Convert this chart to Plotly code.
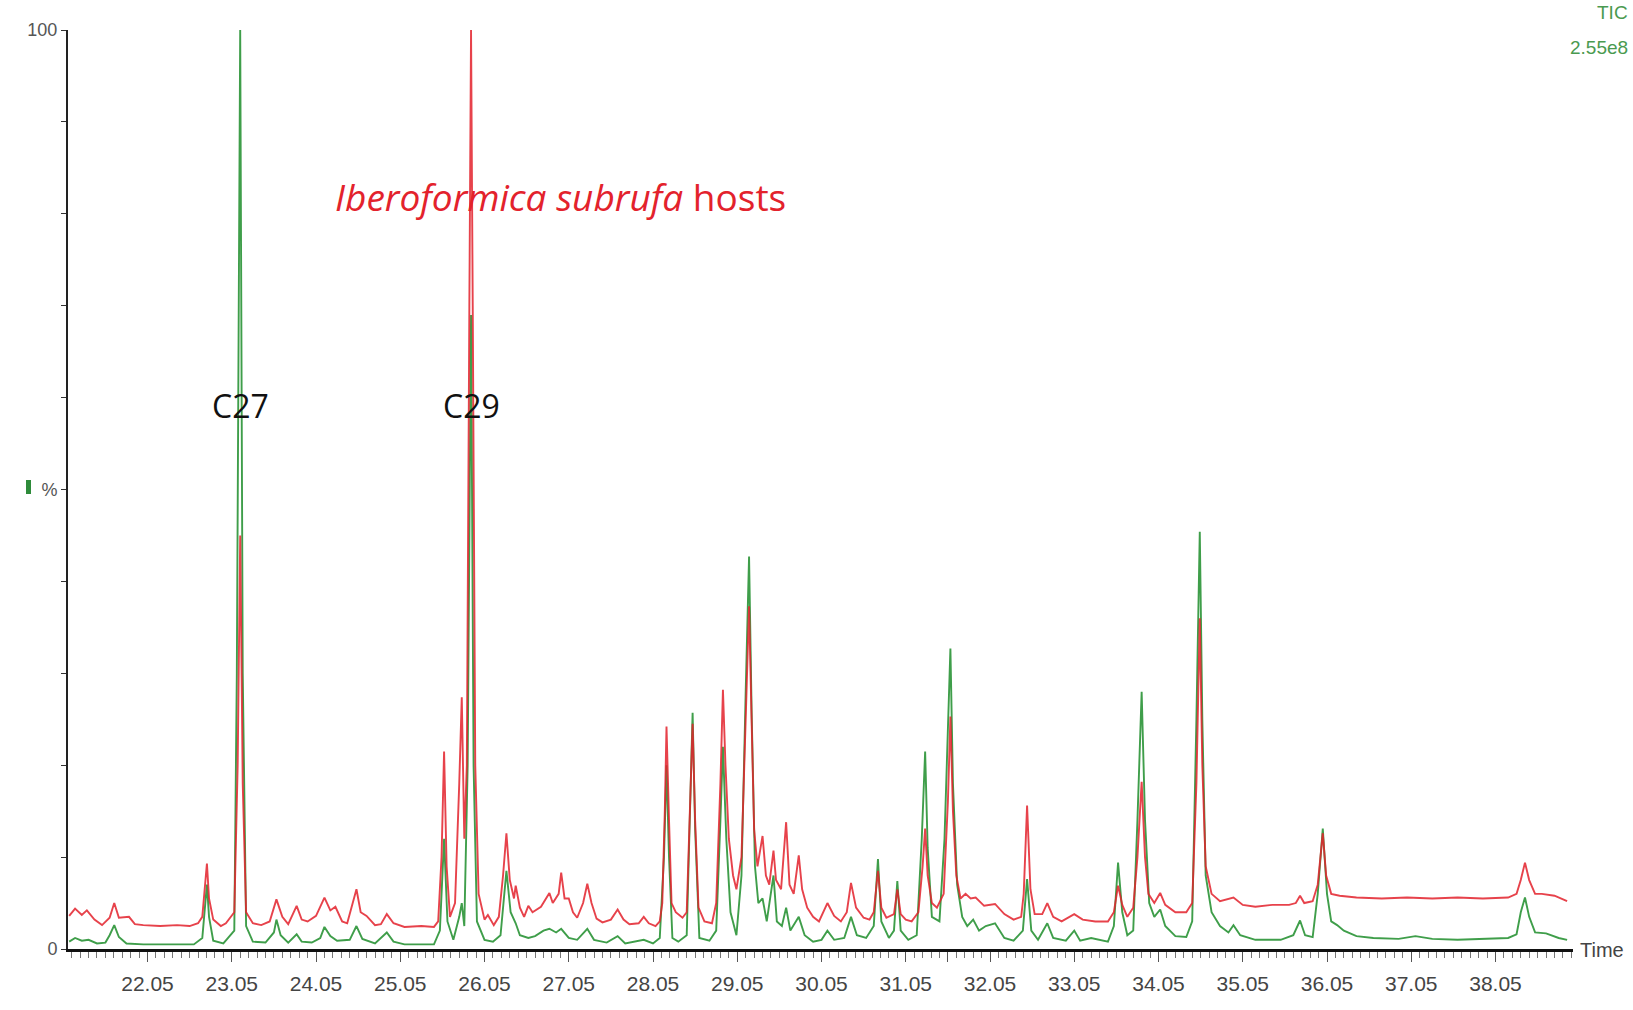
import plotly.graph_objects as go

# ---- data: retention time (min) and relative abundance (%) ----
red_t = [21.12, 21.19, 21.27, 21.33, 21.42, 21.51, 21.60, 21.655, 21.71, 21.83, 21.90, 22.00, 22.20, 22.40, 22.55, 22.65,
         22.70, 22.73, 22.755, 22.78, 22.83, 22.92, 22.98,
         23.08, 23.12, 23.15, 23.18, 23.22, 23.30, 23.40,
         23.50, 23.58, 23.65, 23.72, 23.82, 23.88, 23.95,
         24.05, 24.15, 24.22, 24.28, 24.36, 24.42, 24.53, 24.58, 24.65, 24.75, 24.82,
         24.89, 24.97, 25.10, 25.30, 25.45,
         25.50, 25.54, 25.57, 25.60, 25.64, 25.70, 25.75, 25.78, 25.81,
         25.84, 25.87, 25.89, 25.91, 25.94, 25.98, 26.05, 26.09, 26.16,
         26.22, 26.27, 26.31, 26.35, 26.40, 26.42, 26.47, 26.52, 26.57, 26.62, 26.72, 26.78, 26.82, 26.86,
         26.93, 26.96, 27.00, 27.05, 27.10, 27.15, 27.22, 27.27, 27.32, 27.38, 27.45,
         27.55, 27.63, 27.70, 27.77, 27.88, 27.94, 28.00, 28.08, 28.13,
         28.16, 28.19, 28.21, 28.24, 28.27, 28.32, 28.40,
         28.45, 28.48, 28.52, 28.55, 28.59, 28.66, 28.75,
         28.80, 28.85, 28.88, 28.91, 28.95, 29.00, 29.04, 29.10, 29.15, 29.19, 29.22, 29.25,
         29.29, 29.35, 29.39, 29.43, 29.48, 29.51, 29.57, 29.63, 29.67, 29.72, 29.78, 29.82, 29.88, 29.95, 30.02,
         30.12, 30.20, 30.28, 30.35, 30.40, 30.46, 30.55, 30.62,
         30.67, 30.72, 30.76, 30.82, 30.91, 30.95, 30.99, 31.05, 31.12,
         31.20, 31.25, 31.28, 31.31, 31.36, 31.42, 31.50, 31.55, 31.58, 31.61, 31.65, 31.70,
         31.76, 31.82, 31.88, 31.98, 32.11, 32.22, 32.33, 32.42,
         32.45, 32.49, 32.53, 32.58, 32.67, 32.73, 32.80, 32.90, 33.05, 33.15, 33.30, 33.45,
         33.52, 33.57, 33.62, 33.68, 33.75, 33.80, 33.85, 33.89, 33.93,
         34.00, 34.07, 34.13, 34.25, 34.38, 34.45, 34.50, 34.54, 34.57, 34.61, 34.68, 34.78,
         34.94, 35.05, 35.20, 35.40, 35.60, 35.68, 35.73, 35.78, 35.88,
         35.94, 36.00, 36.04, 36.10, 36.20, 36.40, 36.70, 37.00, 37.30, 37.60, 37.90, 38.20, 38.30,
         38.35, 38.40, 38.45, 38.52, 38.60, 38.75, 38.90]
red_v = [3.6, 4.4, 3.7, 4.2, 3.2, 2.6, 3.4, 5.0, 3.4, 3.5, 2.7, 2.6, 2.5, 2.6, 2.5, 2.8,
         3.5, 6.5, 9.3, 5.5, 3.2, 2.5, 2.8,
         4.0, 20.0, 45.0, 18.0, 4.0, 2.8, 2.6,
         3.0, 5.4, 3.5, 2.7, 4.7, 3.2, 3.0,
         3.6, 5.6, 4.2, 4.6, 3.0, 2.8, 6.5, 4.0, 3.6, 2.6, 2.7,
         3.8, 2.8, 2.4, 2.5, 2.4,
         3.0, 10.0, 21.5, 9.0, 3.5, 5.0, 18.0, 27.4, 12.0,
         20.0, 70.0, 100.0, 70.0, 20.0, 6.0, 3.2, 3.7, 2.6,
         3.5, 8.0, 12.6, 7.5, 5.5, 6.9, 4.5, 3.5, 4.7, 4.0, 4.6, 5.5, 6.1, 5.0,
         6.0, 8.3, 5.5, 5.5, 4.0, 3.4, 5.0, 7.1, 5.0, 3.3, 2.9,
         3.2, 4.3, 3.2, 2.7, 2.8, 3.5, 2.8, 2.5, 3.0,
         5.0, 15.0, 24.2, 14.0, 5.0, 4.0, 3.4,
         4.0, 14.0, 24.5, 14.0, 4.5, 3.0, 2.8,
         5.0, 18.0, 28.2, 20.0, 12.0, 8.0, 6.5, 10.0, 25.0, 37.3, 25.0, 13.0,
         9.0, 12.3, 8.0, 7.0, 10.7, 7.5, 6.5, 13.8, 7.0, 6.0, 10.2, 6.5, 4.5, 3.5, 3.0,
         5.0, 3.6, 3.0, 4.0, 7.2, 4.5, 3.4, 3.2,
         4.0, 8.5, 4.5, 3.4, 3.8, 6.5, 3.8, 3.2, 3.0,
         4.0, 9.0, 13.1, 8.0, 5.0, 4.5, 6.0, 16.0, 25.3, 15.0, 8.0, 5.5,
         6.0, 5.5, 5.6, 4.7, 4.9, 3.8, 3.2, 3.5,
         6.0, 15.6, 6.5, 3.8, 3.8, 5.0, 3.5, 3.0, 3.8, 3.2, 3.0, 3.0,
         4.0, 6.9, 4.8, 3.5, 4.5, 10.0, 18.2, 10.0, 6.0,
         5.0, 6.1, 4.8, 4.0, 4.0, 5.0, 18.0, 36.0, 20.0, 9.0, 6.0, 5.2,
         5.6, 4.8, 4.6, 4.8, 4.8, 5.0, 5.8, 5.0, 5.2,
         7.0, 12.6, 8.0, 6.0, 5.8, 5.6, 5.5, 5.6, 5.5, 5.6, 5.5, 5.6, 6.0,
         7.5, 9.4, 7.5, 6.0, 6.0, 5.8, 5.2]

green_t = [21.12, 21.19, 21.27, 21.35, 21.45, 21.55, 21.60, 21.655, 21.71, 21.80, 22.00, 22.30, 22.60,
           22.70, 22.73, 22.755, 22.78, 22.83, 22.95,
           23.08, 23.11, 23.15, 23.18, 23.22, 23.30, 23.45, 23.55, 23.58, 23.63, 23.72, 23.82, 23.88,
           24.00, 24.10, 24.15, 24.22, 24.30, 24.45, 24.53, 24.60, 24.75, 24.89, 24.97, 25.10, 25.45,
           25.52, 25.57, 25.61, 25.68, 25.75, 25.78, 25.81, 25.85, 25.89, 25.92, 25.96, 26.05, 26.15,
           26.24, 26.31, 26.36, 26.42, 26.47, 26.57, 26.65, 26.75, 26.82, 26.90, 26.96, 27.05, 27.15,
           27.27, 27.35, 27.50, 27.63, 27.72, 27.94, 28.05, 28.13,
           28.18, 28.21, 28.24, 28.28, 28.35, 28.45, 28.49, 28.52, 28.55, 28.60, 28.72,
           28.80, 28.85, 28.88, 28.92, 28.97, 29.04, 29.10, 29.15, 29.19, 29.22, 29.26,
           29.30, 29.35, 29.40, 29.48, 29.52, 29.58, 29.63, 29.68, 29.78, 29.85, 29.95,
           30.05, 30.12, 30.20, 30.32, 30.40, 30.47, 30.58, 30.67, 30.72, 30.76, 30.85, 30.91, 30.95, 30.99,
           31.08, 31.18, 31.24, 31.28, 31.31, 31.36, 31.45, 31.51, 31.58, 31.61, 31.66, 31.72,
           31.78, 31.85, 31.92, 32.00, 32.11, 32.22, 32.33, 32.44, 32.49, 32.54, 32.62, 32.73, 32.80,
           32.95, 33.05, 33.12, 33.25, 33.45, 33.52, 33.57, 33.62, 33.68, 33.75, 33.80, 33.85, 33.89, 33.94,
           34.00, 34.07, 34.13, 34.25, 34.38, 34.45, 34.50, 34.54, 34.57, 34.61, 34.68, 34.78, 34.88, 34.94,
           35.02, 35.20, 35.50, 35.65, 35.73, 35.79, 35.88, 35.94, 36.00, 36.05, 36.10, 36.17, 36.25,
           36.40, 36.60, 36.90, 37.10, 37.30, 37.60, 37.90, 38.20, 38.30, 38.35, 38.40, 38.45, 38.52,
           38.65, 38.80, 38.90]
green_v = [0.8, 1.2, 0.9, 1.0, 0.6, 0.7, 1.5, 2.6, 1.3, 0.6, 0.5, 0.5, 0.5,
           1.2, 4.0, 7.0, 3.5, 0.9, 0.6,
           2.0, 30.0, 100.0, 30.0, 2.5, 0.8, 0.7, 1.8, 3.2, 1.5, 0.7, 1.6, 0.8,
           0.7, 1.2, 2.4, 1.4, 0.9, 1.0, 2.5, 1.1, 0.6, 1.8, 0.8, 0.5, 0.5,
           2.0, 12.0, 3.0, 1.0, 3.5, 5.0, 2.5, 20.0, 69.0, 20.0, 3.0, 1.0, 0.8,
           1.5, 8.5, 4.0, 2.8, 1.5, 1.2, 1.4, 2.0, 2.2, 1.8, 2.2, 1.2, 1.0,
           2.2, 1.0, 0.7, 1.4, 0.6, 1.0, 0.6, 1.2,
           10.0, 20.0, 10.0, 1.2, 0.8, 1.5, 14.0, 25.7, 13.0, 1.2, 0.9,
           2.0, 14.0, 22.0, 12.0, 4.0, 1.5, 8.0, 28.0, 42.7, 26.0, 9.0,
           5.0, 5.5, 3.0, 8.0, 3.0, 2.5, 4.5, 2.0, 3.5, 1.5, 0.8,
           1.0, 2.0, 1.0, 1.2, 3.5, 1.5, 1.2, 2.5, 9.8, 3.0, 1.2, 2.0, 7.4, 2.0,
           1.0, 1.5, 12.0, 21.5, 11.0, 3.5, 3.0, 12.0, 32.7, 18.0, 7.0, 3.5,
           2.5, 3.2, 2.0, 2.5, 2.8, 1.2, 0.9, 2.0, 7.6, 2.0, 1.0, 2.8, 1.2,
           0.9, 2.0, 0.9, 1.2, 0.8, 2.5, 9.4, 4.0, 1.5, 2.0, 14.0, 28.0, 14.0, 5.0,
           3.5, 4.3, 2.5, 1.4, 1.3, 3.0, 25.0, 45.4, 25.0, 8.0, 4.0, 2.5, 1.8, 2.6,
           1.5, 1.0, 1.0, 1.5, 3.1, 1.5, 1.3, 6.0, 13.1, 6.0, 3.0, 2.6, 2.0,
           1.4, 1.2, 1.1, 1.4, 1.1, 1.0, 1.1, 1.2, 1.6, 4.0, 5.6, 3.5, 1.8,
           1.7, 1.2, 1.0]

x_tick_labels = ["22.05", "23.05", "24.05", "25.05", "26.05", "27.05", "28.05", "29.05",
                 "30.05", "31.05", "32.05", "33.05", "34.05", "35.05", "36.05", "37.05", "38.05"]
y_tick_vals = [0, 10, 20, 30, 40, 50, 60, 70, 80, 90, 100]
y_tick_text = ["0", "", "", "", "", "%", "", "", "", "", "100"]

peak_names = ["C27", "C29"]
peak_times = [23.15, 25.89]

# ---- layout geometry (pixels) ----
W, H = 1633, 1010
L, R, T, B = 68, 60, 30, 61
PW, PH = W - L - R, H - T - B
X0, X1 = 21.106, 38.97

def px(x):
    return (x - L) / PW

def py(y):
    return (H - B - y) / PH

RED = "#e3222c"
GREEN = "#3f9e4a"
SANS = "Liberation Sans, Arial, sans-serif"
LABEL = "Open Sans, sans-serif"

fig = go.Figure()
fig.add_trace(go.Scatter(x=green_t, y=green_v, mode="lines",
                         line=dict(color=GREEN, width=1.9), hoverinfo="skip"))
fig.add_trace(go.Scatter(x=red_t, y=red_v, mode="lines",
                         line=dict(color=RED, width=1.9), opacity=0.85, hoverinfo="skip"))

major_vals = [float(l) for l in x_tick_labels]
half_vals = [v - 0.5 for v in major_vals] + [major_vals[-1] + 0.5]
minor_vals = [round(21.15 + 0.1 * i, 2) for i in range(179)]

fig.update_xaxes(range=[X0, X1], showgrid=False, zeroline=False, automargin=False,
                 showline=True, linecolor="#111111", linewidth=3,
                 tickmode="array", tickvals=major_vals + half_vals,
                 ticktext=x_tick_labels + [""] * len(half_vals),
                 ticks="outside", ticklen=10, tickwidth=1, tickcolor="#555555",
                 ticklabelstandoff=4,
                 tickfont=dict(family=SANS, size=21, color="#444444"),
                 minor=dict(tickmode="array", tickvals=minor_vals, ticks="outside",
                            ticklen=6, tickwidth=1, tickcolor="#777777"))
fig.update_yaxes(range=[0, 100], showgrid=False, zeroline=False, automargin=False,
                 showline=True, linecolor="#222222", linewidth=2,
                 tickmode="array", tickvals=y_tick_vals, ticktext=y_tick_text,
                 ticks="outside", ticklen=5, tickwidth=1, tickcolor="#333333",
                 tickfont=dict(family=SANS, size=18, color="#555555"))

annotations = [
    dict(xref="paper", yref="paper", x=px(333), y=py(196), xanchor="left", yanchor="middle",
         text="<i>Iberoformica subrufa</i> hosts", showarrow=False,
         font=dict(family=LABEL, size=37, color=RED)),
    dict(xref="paper", yref="paper", x=px(1626), y=py(950), xanchor="right", yanchor="middle",
         text="Time", showarrow=False, font=dict(family=SANS, size=20, color="#444444")),
    dict(xref="paper", yref="paper", x=px(1630), y=py(13), xanchor="right", yanchor="middle",
         text="TIC", showarrow=False, font=dict(family=SANS, size=19, color="#4a9a50")),
    dict(xref="paper", yref="paper", x=px(1630), y=py(48), xanchor="right", yanchor="middle",
         text="2.55e8", showarrow=False, font=dict(family=SANS, size=19, color="#4a9a50")),
]
for name, t in zip(peak_names, peak_times):
    annotations.append(dict(xref="x", yref="paper", x=t, y=py(405), xanchor="center", yanchor="middle",
                            text=name, showarrow=False,
                            font=dict(family=LABEL, size=32, color="#111111")))

fig.update_layout(width=W, height=H, margin=dict(l=L, r=R, t=T, b=B),
                  paper_bgcolor="white", plot_bgcolor="white", showlegend=False,
                  annotations=annotations,
                  shapes=[dict(type="rect", xref="paper", yref="paper",
                               x0=px(26), x1=px(31), y0=py(494), y1=py(480),
                               fillcolor="#2e8b3a", line=dict(width=0))])

fig.write_html("out.html", config={"displayModeBar": False},
               post_script="document.body.style.margin='0';document.body.style.overflow='hidden';")
